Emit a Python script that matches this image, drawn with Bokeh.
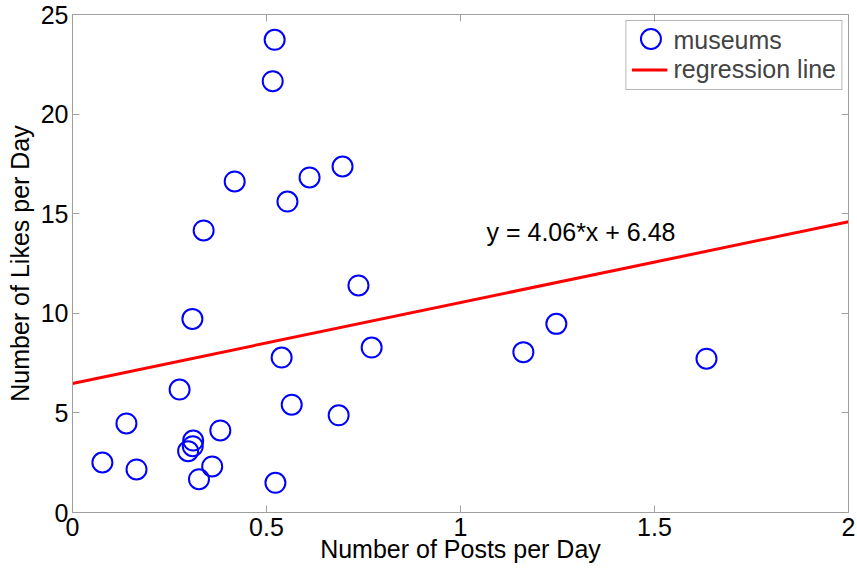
from bokeh.plotting import figure
from bokeh.models import LinearAxis, Range1d, FixedTicker, Legend, LegendItem, Label
from bokeh.embed import file_html
from bokeh.resources import INLINE

# Posting activity vs. engagement for museum accounts
posts_per_day = [0.077, 0.139, 0.165, 0.276, 0.298, 0.310, 0.311, 0.309, 0.326,
                 0.338, 0.360, 0.381, 0.418, 0.516, 0.521, 0.523, 0.539, 0.554,
                 0.565, 0.611, 0.686, 0.696, 0.737, 0.771, 1.162, 1.247, 1.634]
likes_per_day = [2.51, 4.47, 2.16, 6.17, 3.08, 3.33, 3.61, 9.72, 1.67,
                 14.16, 2.31, 4.12, 16.62, 21.65, 23.73, 1.49, 7.78, 15.61,
                 5.41, 16.82, 4.88, 17.37, 11.40, 8.28, 8.05, 9.47, 7.72]

slope = 4.06
intercept = 6.48
fit_x = [0.0, 2.0]
fit_y = [slope * v + intercept for v in fit_x]

x_ticks = [0, 0.5, 1, 1.5, 2]
y_ticks = [0, 5, 10, 15, 20, 25]

FONT = "Liberation Sans"
AXIS_GREY = "#a0a0a0"
MARKER_PX = 20

# plot frame size in pixels
FRAME_W, FRAME_H = 776, 498

p = figure(width=857, height=573, output_backend="svg", toolbar_location=None,
           x_range=Range1d(0, 2), y_range=Range1d(0, 25),
           min_border_left=72, min_border_right=9, min_border_top=14,
           min_border_bottom=61)
p.xgrid.visible = False
p.ygrid.visible = False
p.outline_line_color = AXIS_GREY
p.background_fill_color = "white"
p.border_fill_color = "white"
# pixel-based ranges, used to place the legend key marker
p.extra_x_ranges = {"px": Range1d(0, FRAME_W)}
p.extra_y_ranges = {"px": Range1d(0, FRAME_H)}


def style_axis(ax, labels=True):
    ax.axis_line_color = AXIS_GREY
    ax.major_tick_line_color = AXIS_GREY
    ax.major_tick_in = 7
    ax.major_tick_out = 0
    ax.minor_tick_line_color = None
    ax.major_label_text_font = FONT
    ax.major_label_text_font_size = "25px"
    ax.major_label_text_color = "black"
    ax.axis_label_text_font = FONT
    ax.axis_label_text_font_size = "25px"
    ax.axis_label_text_font_style = "normal"
    ax.axis_label_text_color = "black"
    if not labels:
        ax.major_label_text_font_size = "0px"
        ax.major_label_text_color = None


p.xaxis.ticker = FixedTicker(ticks=x_ticks)
p.yaxis.ticker = FixedTicker(ticks=y_ticks)
p.xaxis.axis_label = "Number of Posts per Day"
p.yaxis.axis_label = "Number of Likes per Day"
style_axis(p.xaxis[0])
style_axis(p.yaxis[0])
p.xaxis.major_label_standoff = 5
p.xaxis.axis_label_standoff = -4
p.yaxis.major_label_standoff = 4
p.yaxis.axis_label_standoff = 4

top = LinearAxis(ticker=FixedTicker(ticks=x_ticks))
right = LinearAxis(ticker=FixedTicker(ticks=y_ticks))
style_axis(top, labels=False)
style_axis(right, labels=False)
p.add_layout(top, "above")
p.add_layout(right, "right")

fit = p.line(fit_x, fit_y, line_color="#ff0000", line_width=3)
pts = p.scatter(posts_per_day, likes_per_day, marker="circle", size=MARKER_PX,
                fill_color=None, line_color="#0000ff", line_width=2)

# legend: box, texts and line key come from Legend; the circle key is drawn
# at full marker size inside an empty key slot
LEG_MARGIN, LEG_PAD, ROW_H, GLYPH_W, STANDOFF = 6, 5, 27, 36, 6
LABEL_PX = 25
key_blank = p.scatter([], [], marker="circle", size=MARKER_PX,
                      fill_color=None, line_color=None)
legend = Legend(items=[LegendItem(label="museums", renderers=[key_blank]),
                       LegendItem(label="regression line", renderers=[fit])],
                location="top_right")
legend.label_text_font = FONT
legend.label_text_font_size = f"{LABEL_PX}px"
legend.label_standoff = STANDOFF
legend.glyph_width = GLYPH_W
legend.glyph_height = ROW_H
legend.label_height = ROW_H
legend.spacing = 0
legend.padding = LEG_PAD
legend.margin = LEG_MARGIN
legend.border_line_color = "#707070"
legend.border_line_width = 1
legend.background_fill_alpha = 0
p.add_layout(legend)

# approximate width of the longest label in Liberation Sans (em units)
longest_em = 6.502
legend_w = 2 * LEG_PAD + GLYPH_W + STANDOFF + longest_em * LABEL_PX
key_x = FRAME_W - LEG_MARGIN - legend_w + LEG_PAD + GLYPH_W / 2
key_y = FRAME_H - LEG_MARGIN - LEG_PAD - ROW_H / 2
p.scatter([key_x], [key_y], marker="circle", size=MARKER_PX,
          fill_color=None, line_color="#0000ff", line_width=2,
          x_range_name="px", y_range_name="px")

eq = Label(x=1.067, y=14.1, text=f"y = {slope:.2f}*x + {intercept:.2f}",
           text_font=FONT, text_font_size="25px", text_baseline="middle",
           text_color="black")
p.add_layout(eq)

open("out.html", "w").write(file_html(p, INLINE))
